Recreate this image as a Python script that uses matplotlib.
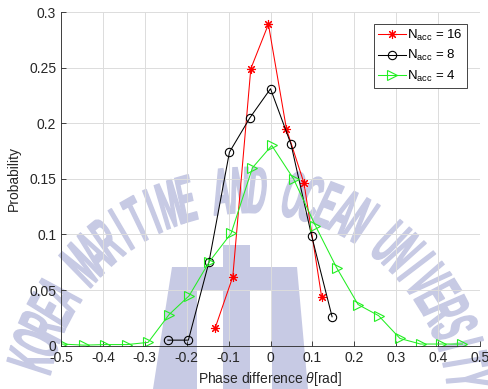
import numpy as np
import matplotlib
matplotlib.use("Agg")
import matplotlib.pyplot as plt
import matplotlib.transforms as mtransforms
from matplotlib.textpath import TextPath
from matplotlib.font_manager import FontProperties
from matplotlib.patches import PathPatch, Polygon

plt.rcParams['font.family'] = ['Liberation Sans', 'DejaVu Sans']
plt.rcParams['mathtext.fontset'] = 'custom'
plt.rcParams['mathtext.rm'] = 'Liberation Sans'
plt.rcParams['mathtext.it'] = 'Liberation Sans:italic'

# ---- data
phase_16 = [-0.132, -0.090, -0.047, -0.005, 0.038, 0.080, 0.122]
prob_16 = [0.016, 0.062, 0.249, 0.289, 0.195, 0.146, 0.044]

phase_8 = [-0.245, -0.196, -0.147, -0.098, -0.049, 0.0, 0.049, 0.098, 0.147]
prob_8 = [0.005, 0.005, 0.075, 0.174, 0.205, 0.231, 0.181, 0.099, 0.026]

phase_4 = [-0.498, -0.446, -0.395, -0.343, -0.292, -0.242, -0.194, -0.146, -0.094, -0.043,
           0.003, 0.055, 0.107, 0.158, 0.209, 0.258, 0.309, 0.358, 0.408, 0.458]
prob_4 = [0.0015, 0.0005, 0.001, 0.001, 0.003, 0.028, 0.045, 0.0755, 0.101, 0.160,
          0.180, 0.150, 0.108, 0.070, 0.037, 0.027, 0.0065, 0.0015, 0.0015, 0.0015]

labels = [r'N$_{\rm acc}$ = 16', r'N$_{\rm acc}$ = 8', r'N$_{\rm acc}$ = 4']
xticks = [-0.5, -0.4, -0.3, -0.2, -0.1, 0, 0.1, 0.2, 0.3, 0.4, 0.5]
xticklabels = ['-0.5', '-0.4', '-0.3', '-0.2', '-0.1', '0', '0.1', '0.2', '0.3', '0.4', '0.5']
yticks = [0, 0.05, 0.1, 0.15, 0.2, 0.25, 0.3]
yticklabels = ['0', '0.05', '0.1', '0.15', '0.2', '0.25', '0.3']

W, H = 488, 389
fig = plt.figure(figsize=(W / 100, H / 100), dpi=100)
ax = fig.add_axes([61 / W, 1 - 345.7 / H, 419 / W, 333.7 / H])
ax.set_facecolor('none')

# ---- university watermark (decoration behind the axes)
wm_color = '#c7cae4'
px = mtransforms.Affine2D().scale(1 / 100) + fig.dpi_scale_trans   # pixel (y-up) -> display

logo = [(153, 389), (172, 267), (223, 267), (223, 245), (250, 245), (250, 267), (297, 267),
        (308, 389), (272, 389), (272, 290), (250, 290), (250, 389), (223, 389), (223, 290),
        (197, 290), (197, 389)]
fig.patches.append(Polygon([(x, H - y) for x, y in logo], closed=True, fc=wm_color,
                           ec='none', transform=px, zorder=-1))

fp = FontProperties(family='Liberation Sans', weight='bold')
wm_text = "KOREA MARITIME AND OCEAN UNIVERSITY"
cx, cy, r = 248, H - 414, 225
for i, ch in enumerate(wm_text):
    if ch == ' ':
        continue
    th = np.deg2rad(166 - i * 4.62)
    tp = TextPath((0, 0), ch, size=1, prop=fp)
    ext = tp.get_extents()
    tr = (mtransforms.Affine2D()
          .translate(-(ext.x0 + ext.x1) / 2, -0.36)
          .skew_deg(10, 0)
          .scale(26, 66)
          .rotate(th - np.pi / 2)
          .translate(cx + r * np.cos(th), cy + r * np.sin(th)))
    fig.patches.append(PathPatch(tr.transform_path(tp), fc=wm_color, ec=wm_color, lw=1.0,
                                 transform=px, zorder=-1))

# ---- curves
ax.plot(phase_16, prob_16, color='r', lw=0.75, marker=(8, 2, 0), ms=6.5, mew=0.8,
        label=labels[0])
ax.plot(phase_8, prob_8, color='k', lw=0.75, marker='o', ms=6, mfc='none', mew=0.8,
        label=labels[1])
ax.plot(phase_4, prob_4, color='#22ee22', lw=0.75, marker='>', ms=6.5, mfc='none', mew=0.8,
        label=labels[2])

ax.set_xlim(-0.5, 0.5)
ax.set_ylim(0, 0.3)
ax.set_xticks(xticks)
ax.set_xticklabels(xticklabels)
ax.set_yticks(yticks)
ax.set_yticklabels(yticklabels)
ax.tick_params(direction='in', length=3.5, width=0.6, colors='#262626', labelsize=10,
               labelcolor='#262626')
ax.grid(True, color='#dcdcdc', lw=0.7)
ax.set_axisbelow(True)
for s in ['top', 'right']:
    ax.spines[s].set_visible(False)
for s in ['left', 'bottom']:
    ax.spines[s].set_color('#262626')
    ax.spines[s].set_linewidth(0.6)

ax.set_xlabel(r'Phase difference $\theta$[rad]', fontsize=10, color='#262626', labelpad=4)
ax.set_ylabel('Probability', fontsize=10, color='#262626', labelpad=6)

leg = ax.legend(loc='upper right', bbox_to_anchor=(0.969, 0.964), borderaxespad=0,
                fontsize=9.5, fancybox=False, edgecolor='#262626', framealpha=1,
                handlelength=2.1, handletextpad=0.1, labelspacing=0.4, borderpad=0.3)
leg.get_frame().set_linewidth(0.6)

fig.savefig("out.png", dpi=100)
